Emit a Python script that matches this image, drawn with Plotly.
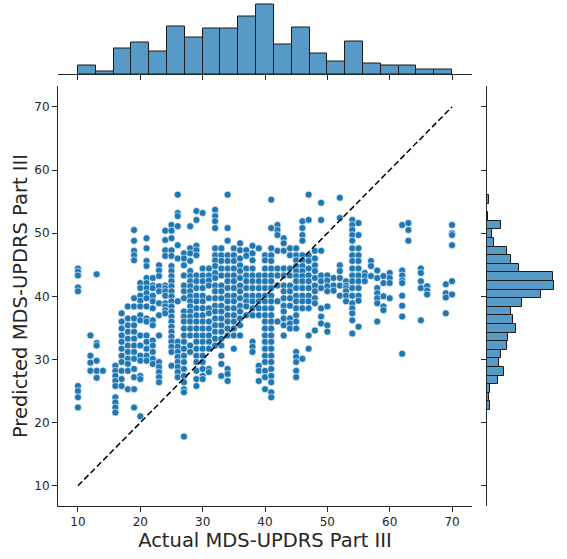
import plotly.graph_objects as go

# ---------------- data ----------------
actual_levels = [10, 12, 13, 14, 16, 17, 18, 19, 20, 21, 22, 23, 24, 25, 26, 27, 28, 29, 30,
                 31, 32, 33, 34, 35, 36, 37, 38, 39, 40, 41, 42, 43, 44, 45, 46, 47, 48, 49,
                 50, 51, 52, 53, 54, 55, 56, 57, 58, 59, 60, 62, 63, 65, 66, 69, 70]
predicted_by_level = [
    [44.4, 43.9, 43.3, 41.4, 40.8, 25.8, 25.0, 24.0, 22.4],
    [33.8, 30.6, 29.5, 28.2],
    [43.5, 32.6, 32.2, 29.8, 28.2, 27.1],
    [28.2],
    [29.0, 28.2, 27.4, 26.6, 25.8, 24.0, 23.2, 22.4, 21.6],
    [37.3, 36.0, 34.9, 33.8, 32.8, 31.7, 30.6, 29.6, 28.2, 26.9, 25.8],
    [38.4, 36.5, 35.4, 34.4, 33.3, 32.2, 31.2, 30.1, 29.3, 28.2, 25.3],
    [50.5, 48.8, 47.2, 46.5, 45.7, 39.7, 38.4, 36.5, 35.4, 34.4, 33.3, 32.2, 31.2, 30.1, 28.5, 27.2, 25.3, 22.4],
    [42.1, 41.3, 40.1, 39.3, 38.4, 37.0, 36.2, 33.8, 32.2, 30.6, 29.8, 27.4, 26.9, 21.0],
    [49.2, 47.6, 45.6, 44.8, 42.9, 42.1, 41.3, 40.5, 39.7, 38.4, 36.5, 36.0, 33.8, 32.8, 31.7, 30.6, 29.8],
    [42.9, 41.7, 41.3, 40.1, 39.2, 38.1, 36.2, 35.4, 33.0, 32.2, 31.2, 30.1, 29.3],
    [44.9, 44.1, 43.2, 41.6, 40.8, 38.9, 37.0, 33.8, 29.6, 28.8, 28.0, 27.2, 26.4],
    [50.4, 48.9, 47.3, 46.4, 41.7, 41.3, 40.8, 40.1, 38.9, 38.4, 37.8, 37.3],
    [51.3, 50.4, 49.2, 47.3, 46.4, 44.8, 44.0, 43.2, 42.4, 41.6, 40.8, 40.0, 39.2, 38.4, 37.6, 36.8, 36.0, 35.2, 34.4, 33.6, 32.8, 32.0, 31.2, 29.0],
    [56.1, 53.2, 52.7, 51.1, 48.1, 46.0, 39.2, 32.8, 32.0, 31.2, 30.4, 29.6, 28.8, 28.0, 27.2],
    [46.8, 46.0, 44.9, 43.3, 41.7, 40.8, 39.7, 37.6, 36.8, 36.0, 34.9, 33.8, 32.8, 31.7, 30.6, 29.6, 28.5, 27.4, 26.4, 25.3, 24.8, 17.8],
    [51.1, 47.6, 46.8, 45.6, 44.0, 43.2, 42.4, 41.6, 40.8, 40.0, 39.2, 38.4, 37.6, 36.8, 36.0, 34.9, 33.8, 32.2, 31.2],
    [53.5, 52.1, 48.0, 47.3, 46.5, 43.3, 42.4, 41.3, 40.1, 39.2, 38.1, 37.0, 36.0, 34.9, 33.8, 32.8, 31.7, 30.6, 29.6, 28.2, 26.9, 25.8],
    [53.2, 44.4, 43.3, 42.4, 41.3, 40.1, 39.2, 38.1, 37.0, 36.0, 34.9, 33.8, 32.8, 31.7, 30.6, 29.6, 28.5, 27.4, 26.9],
    [44.4, 43.3, 42.5, 41.7, 39.7, 38.1, 37.3, 36.0, 34.9, 33.8, 32.8, 31.7, 28.5, 28.0],
    [53.7, 52.7, 51.9, 50.8, 47.6, 46.5, 45.7, 44.8, 43.7, 42.9, 41.7, 40.8, 39.7, 38.5, 37.6, 36.5, 35.4, 34.4, 33.3, 32.2],
    [47.6, 46.5, 45.6, 44.4, 43.3, 41.7, 40.8, 39.7, 38.5, 37.6, 36.5, 35.4, 34.4, 33.3, 32.2, 30.6, 29.3, 27.4],
    [56.1, 50.8, 48.8, 46.5, 45.6, 44.4, 43.3, 42.4, 41.3, 40.1, 39.2, 38.1, 37.0, 36.0, 34.9, 33.8, 28.5, 27.7, 26.6],
    [47.6, 46.5, 45.6, 44.4, 43.3, 42.4, 41.3, 40.1, 39.2, 38.1, 37.0, 36.0, 34.9, 33.8, 31.7],
    [48.4, 47.3, 46.0, 44.9, 44.0, 42.9, 41.7, 40.8, 39.7, 38.5, 37.6, 36.5, 35.4, 33.8],
    [47.3, 46.4, 44.4, 43.3, 42.4, 41.3, 40.1, 39.2, 38.4, 37.0],
    [48.0, 46.8, 45.7, 44.4, 43.3, 42.4, 41.3, 40.1, 39.2, 38.1, 37.0, 32.8, 32.0, 31.2],
    [47.6, 43.3, 42.4, 41.3, 40.1, 39.2, 38.1, 37.0, 29.0, 28.2, 26.6],
    [46.5, 45.7, 44.4, 43.3, 42.4, 41.3, 40.1, 39.2, 38.1, 37.0, 36.0, 34.9, 33.8, 32.8, 31.7, 30.6, 29.6, 28.2, 27.2, 25.3],
    [55.3, 50.8, 47.6, 46.5, 45.6, 44.4, 43.3, 42.4, 41.3, 40.1, 39.2, 38.1, 37.0, 36.0, 34.9, 33.8, 32.8, 31.7, 30.6, 29.6, 28.5, 27.4, 26.4, 24.8, 24.0],
    [51.3, 50.5, 49.7, 47.2, 44.4, 43.3, 41.7, 39.2, 36.0],
    [49.2, 48.4, 47.2, 44.4, 43.3, 41.7, 40.8, 39.7, 38.5, 37.6, 36.5, 35.4, 33.8],
    [47.6, 46.5, 44.4, 43.3, 41.7, 40.8, 39.7, 38.5, 36.5, 35.7, 34.9],
    [47.6, 46.5, 45.7, 44.8, 44.0, 43.2, 42.4, 41.3, 40.1, 39.2, 38.1, 37.0, 36.0, 34.9, 31.2, 30.4, 29.6, 28.2, 27.2],
    [51.9, 50.8, 49.7, 48.8, 46.5, 45.7, 44.8, 44.0, 43.2, 42.4, 41.3, 40.1, 39.2, 38.1, 30.1],
    [56.1, 52.1, 46.5, 45.6, 44.4, 43.3, 42.4, 41.3, 40.1, 39.2, 38.1, 33.8, 31.7],
    [47.2, 46.0, 44.9, 44.0, 42.9, 41.7, 40.8, 39.7, 38.9, 34.6],
    [54.8, 52.1, 47.2, 43.3, 42.4, 41.3, 38.1, 36.8, 35.7],
    [43.3, 42.5, 41.6, 40.8, 38.4, 35.4, 34.4],
    [42.9, 41.7, 40.9],
    [55.6, 52.4, 44.9, 44.0, 42.9, 41.7, 40.1],
    [42.4, 41.7, 41.3, 40.8, 40.1, 39.2],
    [52.1, 51.3, 50.5, 49.7, 48.8, 47.6, 46.5, 45.6, 44.4, 43.3, 42.4, 41.3, 40.1, 38.9, 38.1, 37.3, 36.2, 34.1],
    [51.6, 49.7, 47.6, 46.5, 45.6, 44.4, 43.3, 42.4, 41.3, 40.1, 39.3, 35.2],
    [43.7, 43.2, 42.4],
    [45.6, 44.8, 43.2],
    [44.1, 42.9, 41.3, 40.5, 39.7, 38.9, 36.0],
    [43.2, 42.1, 40.0, 38.4, 37.8],
    [43.7, 42.9, 42.1, 39.7],
    [51.3, 44.1, 43.3, 42.5, 42.1, 40.1, 38.5, 36.8, 30.9],
    [51.6, 50.5, 48.8],
    [44.4, 43.7, 42.4, 41.3, 36.2],
    [41.6, 40.9, 40.3],
    [41.9, 40.5, 39.8, 37.3],
    [51.3, 50.0, 49.7, 48.1, 42.4, 40.3],
]

# marginal histogram (actual), 21 bins from 10 to 70
actual_hist_start = 10.0
actual_hist_width = 60.0 / 21
actual_hist_counts = [8, 3, 25, 31, 22, 47, 36, 45, 45, 57, 69, 29, 46, 20, 12, 32, 10, 8, 8, 5, 5]

# marginal histogram (predicted), 25 bins from 22.0 upward
pred_hist_start = 22.0
pred_hist_width = 1.362
pred_hist_counts = [3, 2, 3, 11, 17, 12, 14, 20, 21, 29, 26, 24, 35, 54, 67, 66, 32, 24, 20, 7, 5, 14, 1, 0, 2]

identity_line = [10, 70]
axis_ticks = [10, 20, 30, 40, 50, 60, 70]
x_label = "Actual MDS-UPDRS Part III"
y_label = "Predicted MDS-UPDRS Part III"

# ---------------- build ----------------
actual = []
predicted = []
for lvl, ys in zip(actual_levels, predicted_by_level):
    for v in ys:
        actual.append(lvl)
        predicted.append(v)

ax_centers = [actual_hist_start + (i + 0.5) * actual_hist_width for i in range(len(actual_hist_counts))]
py_centers = [pred_hist_start + (i + 0.5) * pred_hist_width for i in range(len(pred_hist_counts))]

W, H = 567, 559
def px(v):
    return v / W
def py(v):
    return 1 - v / H

INK = "#262626"
BLUE = "#1f77b4"
BAR_FILL = "rgba(31,119,180,0.75)"
FONT = "DejaVu Sans"

fig = go.Figure()
fig.add_trace(go.Scatter(
    x=actual, y=predicted, mode="markers",
    marker=dict(size=7, color=BLUE, line=dict(color="white", width=0.6)),
    xaxis="x", yaxis="y", showlegend=False, hoverinfo="skip"))
fig.add_trace(go.Scatter(
    x=identity_line, y=identity_line, mode="lines",
    line=dict(color="black", width=1.5, dash="6px,3px"),
    xaxis="x", yaxis="y", showlegend=False))
fig.add_trace(go.Bar(
    x=ax_centers, y=actual_hist_counts, width=actual_hist_width,
    marker=dict(color=BAR_FILL, line=dict(color="#1a1a1a", width=1)),
    xaxis="x2", yaxis="y2", showlegend=False))
fig.add_trace(go.Bar(
    y=py_centers, x=pred_hist_counts, width=pred_hist_width, orientation="h",
    marker=dict(color=BAR_FILL, line=dict(color="#1a1a1a", width=1)),
    xaxis="x3", yaxis="y3", showlegend=False))

main_xdom = [px(58), px(472)]
main_ydom = [py(506), py(86)]
xr = [6.8, 73.2]
yr = [6.8, 73.3]

tick_common = dict(ticks="outside", ticklen=5, tickwidth=1, tickcolor=INK,
                   showline=True, linecolor=INK, linewidth=1,
                   showgrid=False, zeroline=False)

fig.update_layout(
    width=W, height=H,
    margin=dict(l=0, r=0, t=0, b=0),
    paper_bgcolor="white", plot_bgcolor="white",
    font=dict(family=FONT, color=INK),
    bargap=0,
    xaxis=dict(domain=main_xdom, range=xr, tickvals=axis_ticks, anchor="y",
               tickfont=dict(size=12, color=INK),
               title=dict(text=x_label, font=dict(size=19.5, color=INK), standoff=4),
               **tick_common),
    yaxis=dict(domain=main_ydom, range=yr, tickvals=axis_ticks, anchor="x",
               tickfont=dict(size=12, color=INK),
               title=dict(text=y_label, font=dict(size=19.5, color=INK), standoff=1),
               **tick_common),
    xaxis2=dict(domain=main_xdom, range=xr, tickvals=axis_ticks, anchor="y2",
                showticklabels=False, **tick_common),
    yaxis2=dict(domain=[py(74), py(1.5)], range=[0, max(actual_hist_counts) * 1.05],
                anchor="x2", visible=False),
    xaxis3=dict(domain=[px(487), px(557.5)], range=[0, max(pred_hist_counts) * 1.05],
                anchor="y3", visible=False),
    yaxis3=dict(domain=main_ydom, range=yr, tickvals=axis_ticks, anchor="x3",
                showticklabels=False, **tick_common),
)

fig.write_html("out.html")
